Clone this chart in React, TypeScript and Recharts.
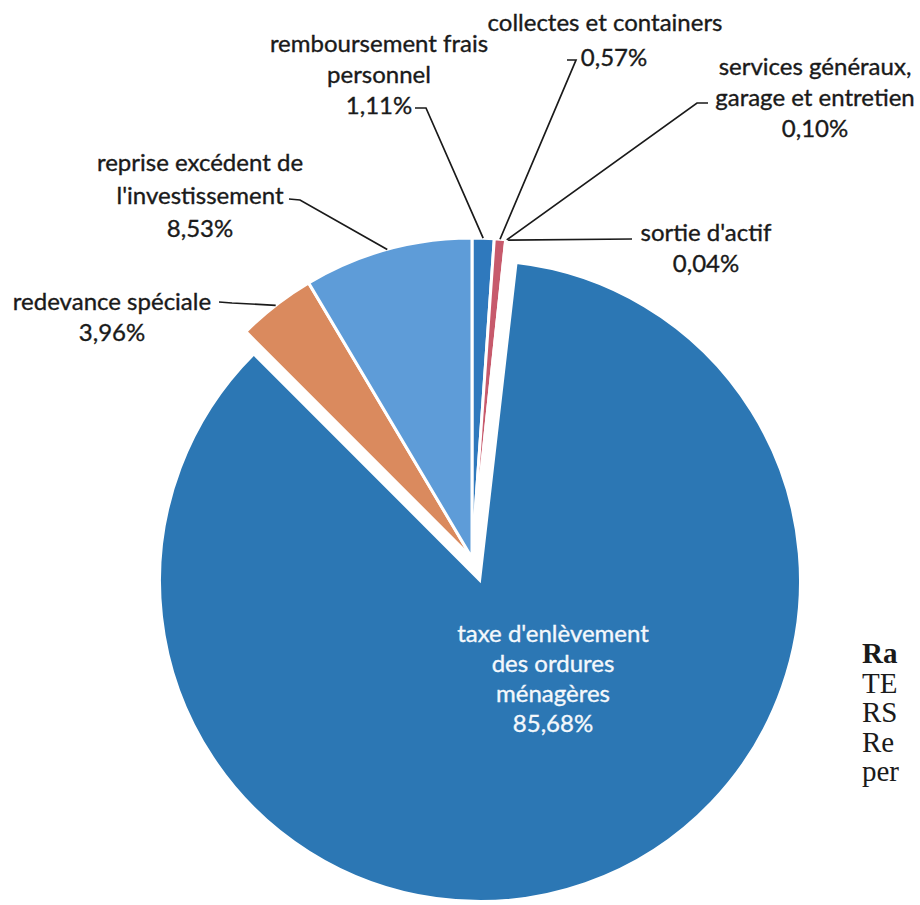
import React from 'react';
import { PieChart, Pie, Cell } from 'recharts';

// parts of the receipts, clockwise from 12 o'clock
const CATEGORIES = [
  'remboursement frais personnel',
  'collectes et containers',
  'services généraux, garage et entretien',
  "sortie d'actif",
  "taxe d'enlèvement des ordures ménagères",
  'redevance spéciale',
  "reprise excédent de l'investissement",
];
const SHARES = [1.11, 0.57, 0.1, 0.04, 85.68, 3.96, 8.53];
const PERCENT_LABELS = ['1,11%', '0,57%', '0,10%', '0,04%', '85,68%', '3,96%', '8,53%'];
const LABEL_LINES = [
  ['remboursement frais', 'personnel'],
  ['collectes et containers'],
  ['services généraux,', 'garage et entretien'],
  ["sortie d'actif"],
  ["taxe d'enlèvement", 'des ordures', 'ménagères'],
  ['redevance spéciale'],
  ['reprise excédent de', "l'investissement"],
];
const MAIN = 4;

const COLORS = ['#2f79bd', '#c75a6c', '#9d9d9d', '#e6b43c', '#2c77b4', '#da8a5e', '#5e9cd8'];
const FONT = 'Lato, "Noto Sans", sans-serif';
const FONT_SIZE = 24;
const RADIAN = Math.PI / 180;

// where each label block sits and how its leader bends
const LABEL_POS = [
  { x: 379, y: 42, lh: 31, pctDx: 0, elbow: [[426, 108], [415, 108]] },
  { x: 605, y: 21, lh: 35, pctDx: 9, elbow: [[576, 60], [567, 60]] },
  { x: 815, y: 65, lh: 31, pctDx: 0, elbow: [[697, 103], [708, 103]] },
  { x: 706, y: 231, lh: 31, pctDx: 0, elbow: [[632, 239]] },
  { x: 553, y: 632, lh: 30, pctDx: 0, elbow: [] },
  { x: 112, y: 300, lh: 31, pctDx: 0, elbow: [[232, 303], [219, 302]] },
  { x: 200, y: 161, lh: 33, pctDx: 0, elbow: [[300, 200], [289, 199]] },
];

const data = CATEGORIES.map((name, i) => ({
  name,
  value: SHARES[i],
  lines: [...LABEL_LINES[i], PERCENT_LABELS[i]],
}));

const labelText = (index: number, color: string) => {
  const pos = LABEL_POS[index];
  const lines = data[index].lines;
  return lines.map((t, k) => (
    <text
      key={k}
      x={pos.x + (k === lines.length - 1 ? pos.pctDx : 0)}
      y={pos.y + k * pos.lh}
      textAnchor="middle"
      dominantBaseline="central"
      fontFamily={FONT}
      fontSize={FONT_SIZE}
      fill={color}
      stroke={color}
      strokeWidth={0.35}
    >
      {t}
    </text>
  ));
};

const renderOuterLabel = (props: any) => {
  const { cx, cy, midAngle, outerRadius, index } = props;
  if (index === MAIN) return <g />;
  const pos = LABEL_POS[index];
  const sx = cx + outerRadius * Math.cos(-midAngle * RADIAN);
  const sy = cy + outerRadius * Math.sin(-midAngle * RADIAN);
  const pts = [[sx, sy], ...pos.elbow].map((p) => p.join(',')).join(' ');
  return (
    <g>
      <polyline points={pts} fill="none" stroke="#1a1a1a" strokeWidth={1.7} />
      {labelText(index, '#1a1a1a')}
    </g>
  );
};

const renderInnerLabel = (props: any) => {
  if (props.index !== MAIN) return <g />;
  return <g>{labelText(MAIN, '#f4f8fc')}</g>;
};

const SIDE_TEXT = ['Ra', 'TE', 'RS', 'Re', 'per'];

export default function App() {
  return (
    <div style={{ position: 'absolute', left: 0, top: 0, width: 920, height: 905, background: '#fff', overflow: 'hidden' }}>
      <PieChart width={920} height={905} margin={{ top: 0, right: 0, bottom: 0, left: 0 }}>
        {/* every slice except the big one */}
        <Pie
          data={data}
          dataKey="value"
          nameKey="name"
          cx={472}
          cy={558}
          outerRadius={320}
          startAngle={90}
          endAngle={-270}
          stroke="#ffffff"
          strokeWidth={3}
          label={renderOuterLabel}
          labelLine={false}
          isAnimationActive={false}
        >
          {data.map((d, i) => (
            <Cell
              key={d.name}
              fill={i === MAIN ? 'none' : COLORS[i]}
              stroke={i === MAIN ? 'none' : '#ffffff'}
            />
          ))}
        </Pie>
        {/* the big slice, pulled out of the pie */}
        <Pie
          data={data}
          dataKey="value"
          nameKey="name"
          cx={480}
          cy={581}
          outerRadius={320}
          startAngle={90}
          endAngle={-270}
          label={renderInnerLabel}
          labelLine={false}
          isAnimationActive={false}
        >
          {data.map((d, i) => (
            <Cell
              key={d.name}
              fill={i === MAIN ? COLORS[i] : 'none'}
              stroke={i === MAIN ? '#ffffff' : 'none'}
              strokeWidth={2}
            />
          ))}
        </Pie>
      </PieChart>
      {SIDE_TEXT.map((t, k) => (
        <div
          key={t}
          style={{
            position: 'absolute',
            left: 862,
            top: 638 + k * 29.5,
            fontFamily: '"Liberation Serif", "DejaVu Serif", serif',
            fontSize: 29,
            fontWeight: k === 0 ? 'bold' : 'normal',
            color: '#1a1a1a',
            lineHeight: '30px',
            whiteSpace: 'nowrap',
          }}
        >
          {t}
        </div>
      ))}
    </div>
  );
}
